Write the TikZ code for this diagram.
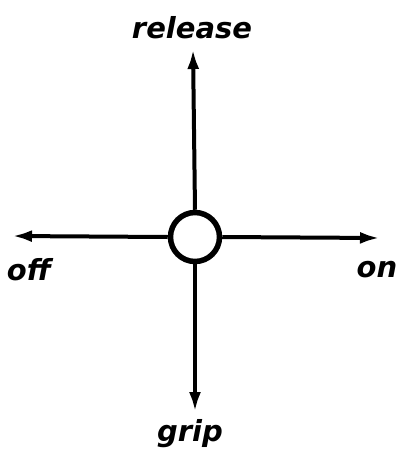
\documentclass[tikz,border=0pt]{standalone}
\usepackage{fontspec}
\setsansfont{DejaVu Sans}
\usetikzlibrary{arrows.meta}
\begin{document}
\begin{tikzpicture}[x=1pt,y=-1pt,
  lbl/.style={font=\sffamily\bfseries\itshape\fontsize{29}{31}\selectfont, inner sep=0pt},
  arr/.style={line width=4pt, -{Latex[length=20pt,width=12pt]}}]
\useasboundingbox (0,0) rectangle (405,459);
\node[circle, draw, line width=5.5pt, minimum size=49pt, inner sep=0pt] (c) at (195,237) {};
\coordinate (t) at (193,49);
\coordinate (b) at (195,412);
\coordinate (l) at (12,236);
\coordinate (r) at (380,238);
\draw[arr] (c.north) -- (t);
\draw[arr] (c.south) -- (b);
\draw[arr] (c.west) -- (l);
\draw[arr] (c.east) -- (r);
\node[lbl] (tl) at (192,28) {release};
\node[lbl] (ol) at (29,270) {off};
\node[lbl] (nl) at (377,270) {on};
\node[lbl] (gl) at (190,434) {grip};
\end{tikzpicture}
\end{document}
